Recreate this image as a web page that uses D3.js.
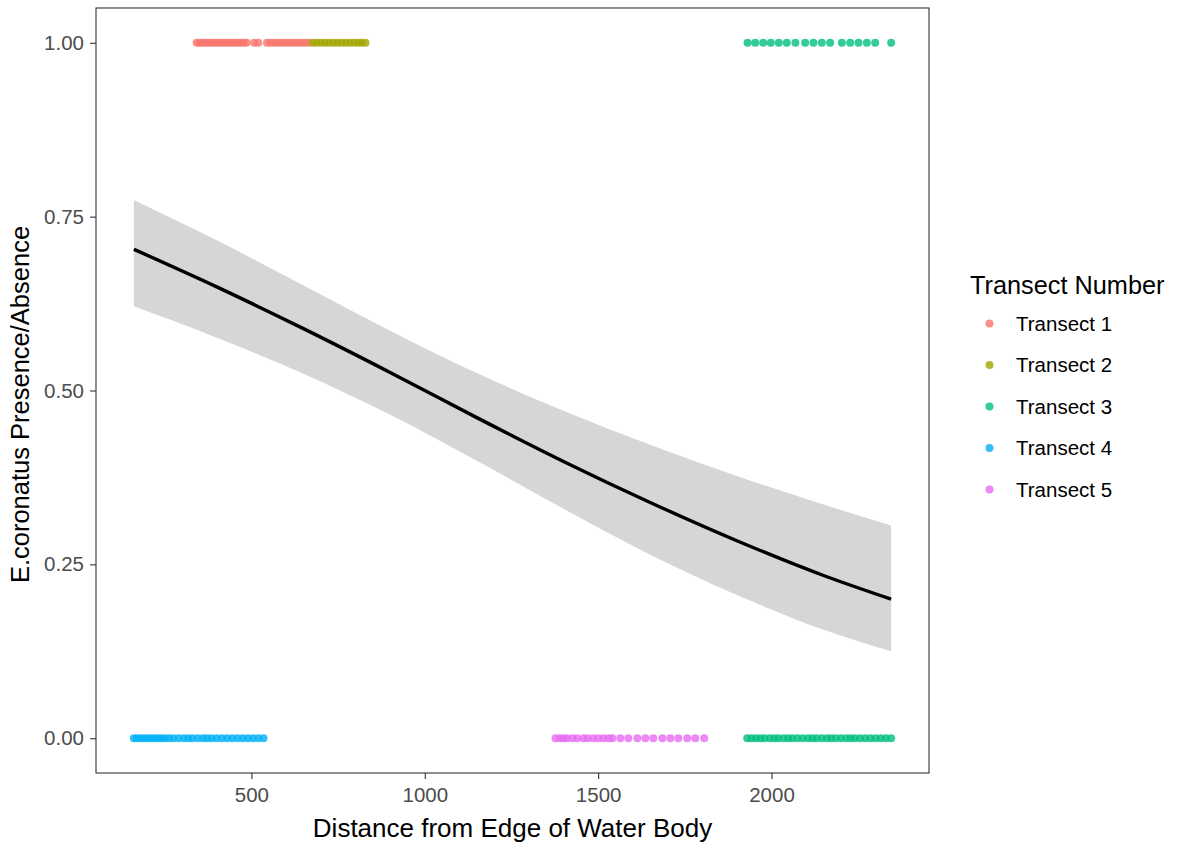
<!DOCTYPE html>
<html>
<head>
<meta charset="utf-8">
<script src="https://cdn.jsdelivr.net/npm/d3@7"></script>
<style>
  html, body { margin: 0; padding: 0; background: #ffffff; }
  svg { display: block; font-family: "Liberation Sans", Arial, sans-serif; }
</style>
</head>
<body>
<svg id="chart" width="1184" height="842"></svg>
<script>
// Survey distances (m) per transect; presence = 1, absence = 0
const transectNames = ["Transect 1", "Transect 2", "Transect 3", "Transect 4", "Transect 5"];
const transectColors = ["#F8766D", "#A3A500", "#00BF7D", "#00B0F6", "#E76BF3"];

const t1Presence = [342, 350, 358, 366, 374, 382, 390, 398, 406, 414, 422, 430, 438, 446, 454,
  462, 470, 478, 486, 508, 520, 545, 555, 565, 575, 585, 595, 605, 615, 625, 635, 645, 655, 665];
const t2Presence = [677, 688, 700, 712, 724, 736, 748, 760, 772, 784, 796, 808, 818, 829];
const t3Presence = [1931, 1953, 1976, 1998, 2021, 2044, 2069, 2097, 2121, 2145, 2169, 2203,
  2227, 2251, 2275, 2299, 2345];
const t3Absence = [1930, 1942, 1955, 1968, 1980, 1995, 2008, 2020, 2035, 2048, 2060, 2075, 2090,
  2105, 2118, 2130, 2145, 2160, 2172, 2185, 2200, 2215, 2228, 2240, 2255, 2270, 2285, 2300, 2315,
  2330, 2345];
const t4Absence = [161, 170, 180, 190, 200, 210, 220, 230, 240, 250, 262, 275, 290, 305, 318, 330,
  345, 360, 372, 385, 400, 415, 430, 445, 460, 475, 490, 505, 520, 535];
const t5Absence = [1377, 1390, 1400, 1410, 1426, 1440, 1458, 1470, 1486, 1500, 1515, 1530, 1541,
  1564, 1587, 1613, 1636, 1659, 1685, 1708, 1731, 1757, 1780, 1806];

// Fitted logistic curve with its 95% band
const fitDistance = [161, 400, 650, 900, 1150, 1400, 1650, 1900, 2150, 2345];
const fitProb     = [0.703, 0.649, 0.589, 0.526, 0.461, 0.398, 0.339, 0.284, 0.234, 0.200];
const fitLower    = [0.621, 0.576, 0.524, 0.465, 0.399, 0.330, 0.264, 0.206, 0.156, 0.125];
const fitUpper    = [0.774, 0.716, 0.651, 0.586, 0.525, 0.471, 0.422, 0.377, 0.336, 0.306];

const xTicks = [500, 1000, 1500, 2000];
const yTicks = [0, 0.25, 0.5, 0.75, 1];

// Assemble point records
const points = [];
function addPoints(arr, transect, value) {
  arr.forEach(d => points.push({ x: d, y: value, t: transect }));
}
addPoints(t1Presence, 0, 1);
addPoints(t2Presence, 1, 1);
addPoints(t3Presence, 2, 1);
addPoints(t3Absence, 2, 0);
addPoints(t4Absence, 3, 0);
addPoints(t5Absence, 4, 0);

const fit = fitDistance.map((d, i) => ({ x: d, y: fitProb[i], lo: fitLower[i], hi: fitUpper[i] }));

// Layout
const panel = { left: 96, right: 929, top: 8, bottom: 773 };

const xMin = d3.min(points, d => d.x), xMax = d3.max(points, d => d.x);
const xPad = (xMax - xMin) * 0.05;
const x = d3.scaleLinear().domain([xMin - xPad, xMax + xPad]).range([panel.left, panel.right]);
const y = d3.scaleLinear().domain([-0.05, 1.05]).range([panel.bottom, panel.top]);

const color = d3.scaleOrdinal().domain(d3.range(5)).range(transectColors);

const svg = d3.select("#chart");

// Confidence band
svg.append("path")
  .datum(fit)
  .attr("fill", "#D6D6D6")
  .attr("d", d3.area().x(d => x(d.x)).y0(d => y(d.lo)).y1(d => y(d.hi)).curve(d3.curveMonotoneX));

// Points
svg.append("g")
  .selectAll("circle")
  .data(points)
  .join("circle")
  .attr("cx", d => x(d.x))
  .attr("cy", d => y(d.y))
  .attr("r", 4)
  .attr("fill", d => color(d.t))
  .attr("fill-opacity", 0.8);

// Fitted line
svg.append("path")
  .datum(fit)
  .attr("fill", "none")
  .attr("stroke", "#000")
  .attr("stroke-width", 3.4)
  .attr("d", d3.line().x(d => x(d.x)).y(d => y(d.y)).curve(d3.curveMonotoneX));

// Panel border
svg.append("rect")
  .attr("x", panel.left).attr("y", panel.top)
  .attr("width", panel.right - panel.left).attr("height", panel.bottom - panel.top)
  .attr("fill", "none").attr("stroke", "#333").attr("stroke-width", 1.1);

// Axes
const xAxis = d3.axisBottom(x).tickValues(xTicks).tickSize(6).tickPadding(8).tickFormat(d3.format("d"));
const yAxis = d3.axisLeft(y).tickValues(yTicks).tickSize(6).tickPadding(6).tickFormat(d3.format(".2f"));

const gx = svg.append("g").attr("transform", `translate(0,${panel.bottom})`).call(xAxis);
const gy = svg.append("g").attr("transform", `translate(${panel.left},0)`).call(yAxis);
[gx, gy].forEach(g => {
  g.select(".domain").remove();
  g.selectAll(".tick line").attr("stroke", "#333").attr("stroke-width", 1.1);
  g.selectAll(".tick text").attr("fill", "#4D4D4D").style("font-size", "20.5px")
    .style("font-family", "'Liberation Sans', Arial, sans-serif");
});

// Axis titles
svg.append("text")
  .attr("x", (panel.left + panel.right) / 2).attr("y", 837)
  .attr("text-anchor", "middle").style("font-size", "26px").attr("fill", "#000")
  .text("Distance from Edge of Water Body");

svg.append("text")
  .attr("transform", `translate(29,${(panel.top + panel.bottom) / 2 + 14}) rotate(-90)`)
  .attr("text-anchor", "middle").style("font-size", "25.5px").attr("fill", "#000")
  .text("E.coronatus Presence/Absence");

// Legend
const legend = svg.append("g").attr("transform", "translate(970,0)");
legend.append("text").attr("x", 0).attr("y", 294)
  .style("font-size", "25.3px").attr("fill", "#000").text("Transect Number");

const items = legend.selectAll("g.item")
  .data(transectNames)
  .join("g")
  .attr("class", "item")
  .attr("transform", (d, i) => `translate(0,${323.5 + i * 41.5})`);
items.append("circle").attr("cx", 19.5).attr("cy", 0).attr("r", 4)
  .attr("fill", (d, i) => color(i)).attr("fill-opacity", 0.8);
items.append("text").attr("x", 46).attr("y", 0).attr("dy", "0.35em")
  .style("font-size", "20.5px").attr("fill", "#000").text(d => d);
</script>
</body>
</html>
